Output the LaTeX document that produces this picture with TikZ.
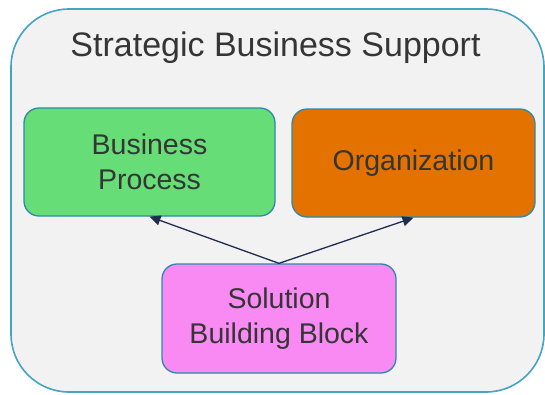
\documentclass[tikz,border=0pt]{standalone}
\usepackage{fontspec}
\setmainfont{Liberation Sans}
\usetikzlibrary{arrows.meta}

\definecolor{framefill}{HTML}{F2F2F2}
\definecolor{frameline}{HTML}{45A3C4}
\definecolor{boxline}{HTML}{2C8AAA}
\definecolor{greenfill}{HTML}{66DD77}
\definecolor{orangefill}{HTML}{E37200}
\definecolor{pinkfill}{HTML}{F98AF3}
\definecolor{arrowcol}{HTML}{1F2D4E}
\definecolor{textcol}{HTML}{353535}

\begin{document}
\begin{tikzpicture}[x=1pt, y=-1pt, line cap=round, line join=round]
  \tikzset{
    block/.style={draw=boxline, line width=1.3pt, rounded corners=15pt,
      align=center, text=textcol, inner sep=0pt,
      font=\fontsize{28.5}{35}\selectfont},
    link/.style={draw=arrowcol, line width=1.3pt,
      -{Triangle[length=11pt,width=10pt]}}
  }
  \useasboundingbox (0,0) rectangle (545,394);

  % Outer frame
  \node[draw=frameline, fill=framefill, line width=1.6pt, rounded corners=58pt,
        minimum width=533pt, minimum height=383pt] (support) at (277.5,200.5) {};
  \node[anchor=base, text=textcol, font=\fontsize{34}{40}\selectfont]
        (title) at (275.5,56.5) {Strategic Business Support};

  % Boxes
  \node[block, fill=greenfill, minimum width=251pt, minimum height=108pt]
        (process) at (149.5,162) {Business\\Process};
  \node[block, fill=orangefill, minimum width=243pt, minimum height=108pt]
        (org) at (413.5,163) {Organization};
  \node[block, fill=pinkfill, minimum width=234pt, minimum height=109pt]
        (sbb) at (279,318.5) {Solution\\Building Block};

  % Arrows
  \draw[link] (sbb.north) -- (process.south);
  \draw[link] (sbb.north) -- (org.south);
\end{tikzpicture}
\end{document}
